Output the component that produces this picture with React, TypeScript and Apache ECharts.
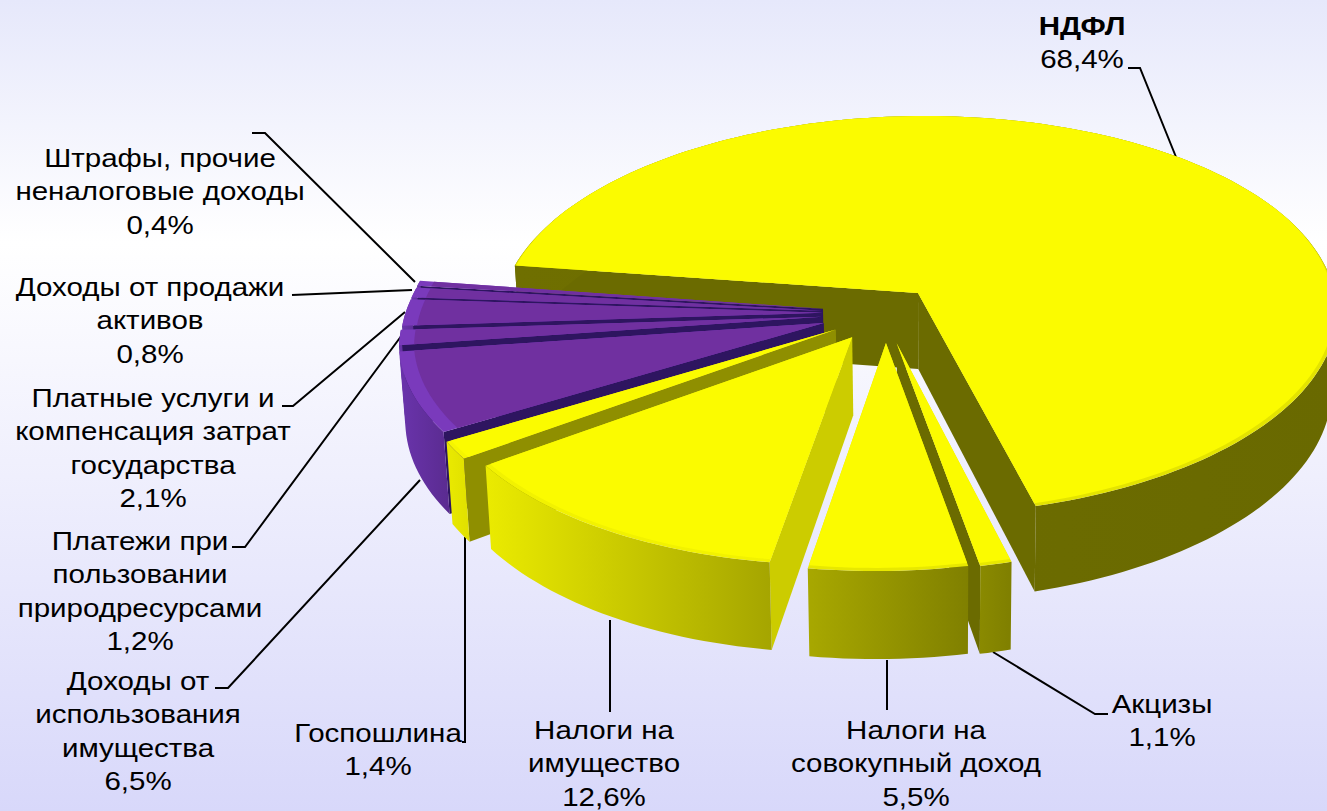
import React, { useEffect, useRef } from "react";
import * as echarts from "echarts";

const categories = [
  "НДФЛ",
  "Акцизы",
  "Налоги на\nсовокупный доход",
  "Налоги на\nимущество",
  "Госпошлина",
  "Доходы от\nиспользования\nимущества",
  "Платежи при\nпользовании\nприродресурсами",
  "Платные услуги и\nкомпенсация затрат\nгосударства",
  "Доходы от продажи\nактивов",
  "Штрафы, прочие\nненалоговые доходы",
];
const values = [68.4, 1.1, 5.5, 12.6, 1.4, 6.5, 1.2, 2.1, 0.8, 0.4];

// back-to-front painting order of the slices (indexes into categories)
const paintOrder = [0, 9, 8, 7, 6, 5, 4, 3, 1, 2];

// clockwise from "up", degrees, where the first slice begins
const START_DEG = 278;

// how each slice is pulled out of the pie, in units of the disc radius
const explodeU = [0, -0.045, -0.07, -0.15, -0.19, -0.22, -0.225, -0.225, -0.225, -0.225];
const explodeV = [0, 0.2475, 0.2475, 0.22, 0.182, 0.15, 0.12, 0.1, 0.09, 0.08];
const radiusFrom = [1, 0.97, 0.97, 0.975, 0.99, 0.97, 0.995, 0.995, 0.995, 0.995];
const radiusTo = [1, 0.97, 0.97, 0.975, 0.99, 0.995, 0.995, 0.995, 0.995, 0.995];

const YEL = "#fbfb00";
const PUR = "#7030a0";
const topColor = [YEL, YEL, YEL, YEL, YEL, PUR, PUR, PUR, PUR, PUR];
const rimLight = ["#e4e400", "#e8e800", "#e8e800", "#f2f200", "#f5f500", "#7a3abc", "#7a3abc", "#7a3abc", "#7a3abc", "#7a3abc"];
const rimWidth = [0.012, 0.012, 0.012, 0.012, 0.012, 0.035, 0.035, 0.035, 0.035, 0.035];
const rimFront = [true, true, true, true, true, false, false, false, false, false];
const frontFrom = ["#6f6f00", "#8a8a00", "#a8a800", "#ebeb00", "#eaea00", "#6a34ac", "#6a34ac", "#6a34ac", "#6a34ac", "#6a34ac"];
const frontTo = ["#696900", "#7f7f00", "#808000", "#a5a500", "#e0e000", "#5a2b90", "#5a2b90", "#5a2b90", "#5a2b90", "#5a2b90"];
const wallFill = ["#6b6b00", "#6b6b00", "#6b6b00", "#cccc00", "#8f8f00", "#2e1560", "#2e1560", "#2e1560", "#2e1560", "#2e1560"];

// label placement: centre x and y of the first line
const labelX = [0, 1162, 916, 604, 378, 138, 140, 153, 150, 160];
const labelY = [0, 704, 730, 730, 733, 681, 541, 398, 287, 158];

const leaders: number[][][] = [
  [[1128, 68], [1140, 68], [1176, 157]],
  [[993, 652], [1095, 714], [1108, 714]],
  [[887, 660], [887, 710]],
  [[610, 620], [610, 712]],
  [[465, 537], [465, 742], [462, 742]],
  [[215, 688], [228, 688], [420, 480]],
  [[232, 547], [245, 547], [402, 335]],
  [[282, 406], [293, 406], [405, 312]],
  [[292, 295], [412, 290]],
  [[252, 133], [265, 133], [415, 282]],
];

const FONT_SIZE = 26;
const TEXT_STRETCH = 1.135;
const LINE_H = 33.4;
const FONT = '"Liberation Sans", Arial, sans-serif';
const DEPTH = 76;

const pct = (v: number) => v.toFixed(1).replace(".", ",") + "%";

// disc plane -> screen, a perspective projection
function project(u: number, v: number) {
  const w = 1 - 0.0025 * u - 0.113 * v;
  return {
    x: 918 + (415.7 * u - 8.3 * v) / w,
    y: 293 + (0.62 * u + 197 * v) / w,
    w,
  };
}
const drop = (p: { x: number; y: number; w: number }) => [
  p.x + 0.012 * (940 - p.x),
  p.y + DEPTH / p.w,
];
const at = (i: number, deg: number, r: number) => {
  const t = (deg * Math.PI) / 180;
  return project(explodeU[i] + r * Math.sin(t), explodeV[i] - r * Math.cos(t));
};
const xy = (p: { x: number; y: number }) => [p.x, p.y];

const total = values.reduce((a, b) => a + b, 0);
function sliceRange(i: number) {
  let acc = 0;
  for (let k = 0; k < i; k++) acc += values[k];
  const a0 = START_DEG + (acc / total) * 360;
  return [a0, a0 + (values[i] / total) * 360];
}

function renderSlice(params: any, api: any) {
  const i = api.value(0);
  const [a0, a1] = sliceRange(i);
  const n = Math.max(4, Math.ceil((a1 - a0) / 1.5));
  const rim: any[] = [];
  const inner: any[] = [];
  for (let k = 0; k <= n; k++) {
    const d = a0 + ((a1 - a0) * k) / n;
    const r = radiusFrom[i] + ((radiusTo[i] - radiusFrom[i]) * k) / n;
    rim.push(at(i, d, r));
    // the bevel fades out towards the back of the disc on the yellow slices
    const f = rimFront[i] ? Math.max(0, Math.min(1, 0.4 - Math.cos((d * Math.PI) / 180))) : 1;
    inner.push(at(i, d, r * (1 - rimWidth[i] * f)));
  }
  const apex = project(explodeU[i], explodeV[i]);
  const mid = at(i, (a0 + a1) / 2, (radiusFrom[i] + radiusTo[i]) / 2);
  const children: any[] = [];

  const wall = (edge: any) => {
    const ex = edge.x - apex.x;
    const ey = edge.y - apex.y;
    const inside = ex * (mid.y - apex.y) - ey * (mid.x - apex.x);
    if (inside * ex > 0) return; // turned away from the viewer
    children.push({
      type: "polygon",
      shape: { points: [xy(apex), xy(edge), drop(edge), drop(apex)] },
      style: { fill: wallFill[i] },
    });
  };
  wall(rim[0]);
  wall(rim[n]);

  // outer wall
  children.push({
    type: "polygon",
    shape: { points: [...rim.map(xy), ...rim.slice().reverse().map(drop)] },
    style: {
      fill: new echarts.graphic.LinearGradient(0, 0, 1, 0, [
        { offset: 0, color: frontFrom[i] },
        { offset: 1, color: frontTo[i] },
      ]),
    },
  });
  // lit edge of the bevel, then the top face
  children.push({
    type: "polygon",
    shape: { points: [xy(apex), ...rim.map(xy)] },
    style: { fill: rimLight[i] },
  });
  children.push({
    type: "polygon",
    shape: { points: [xy(apex), ...inner.map(xy)] },
    style: { fill: topColor[i] },
  });
  return { type: "group", children };
}

export default function App() {
  const ref = useRef<HTMLDivElement>(null);
  useEffect(() => {
    document.body.style.margin = "0";
    const chart = echarts.init(ref.current!, undefined, { renderer: "svg" });
    const textBase = { fontSize: FONT_SIZE, fontFamily: FONT, fill: "#000", lineHeight: LINE_H };
    const labelEls: any[] = categories.slice(1).map((name, k) => {
      const i = k + 1;
      return {
        type: "text",
        x: labelX[i],
        y: labelY[i] - LINE_H / 2,
        scaleX: TEXT_STRETCH,
        style: {
          ...textBase,
          text: name + "\n" + pct(values[i]),
          textAlign: "center",
          textVerticalAlign: "top",
        },
      };
    });
    labelEls.push({
      type: "text",
      x: 1082,
      y: 26,
      scaleX: TEXT_STRETCH,
      style: { ...textBase, fontWeight: "bold", text: categories[0], textAlign: "center", textVerticalAlign: "middle" },
    });
    labelEls.push({
      type: "text",
      x: 1082,
      y: 59,
      scaleX: TEXT_STRETCH,
      style: { ...textBase, text: pct(values[0]), textAlign: "center", textVerticalAlign: "middle" },
    });
    const lineEls = leaders.map((pts) => ({
      type: "polyline",
      shape: { points: pts },
      style: { stroke: "#000", lineWidth: 2, fill: "none" },
    }));
    chart.setOption({
      animation: false,
      backgroundColor: new echarts.graphic.LinearGradient(0, 0, 0, 1, [
        { offset: 0, color: "#e6e8fb" },
        { offset: 0.3, color: "#ffffff" },
        { offset: 1, color: "#d8d8fa" },
      ]),
      series: [
        {
          type: "custom",
          coordinateSystem: "none",
          silent: true,
          renderItem: renderSlice,
          data: paintOrder.map((i) => ({ name: categories[i], value: [i, values[i]] })),
        },
      ],
      graphic: { elements: [...lineEls, ...labelEls] },
    });
    return () => chart.dispose();
  }, []);
  return <div ref={ref} style={{ width: 1327, height: 811 }} />;
}
